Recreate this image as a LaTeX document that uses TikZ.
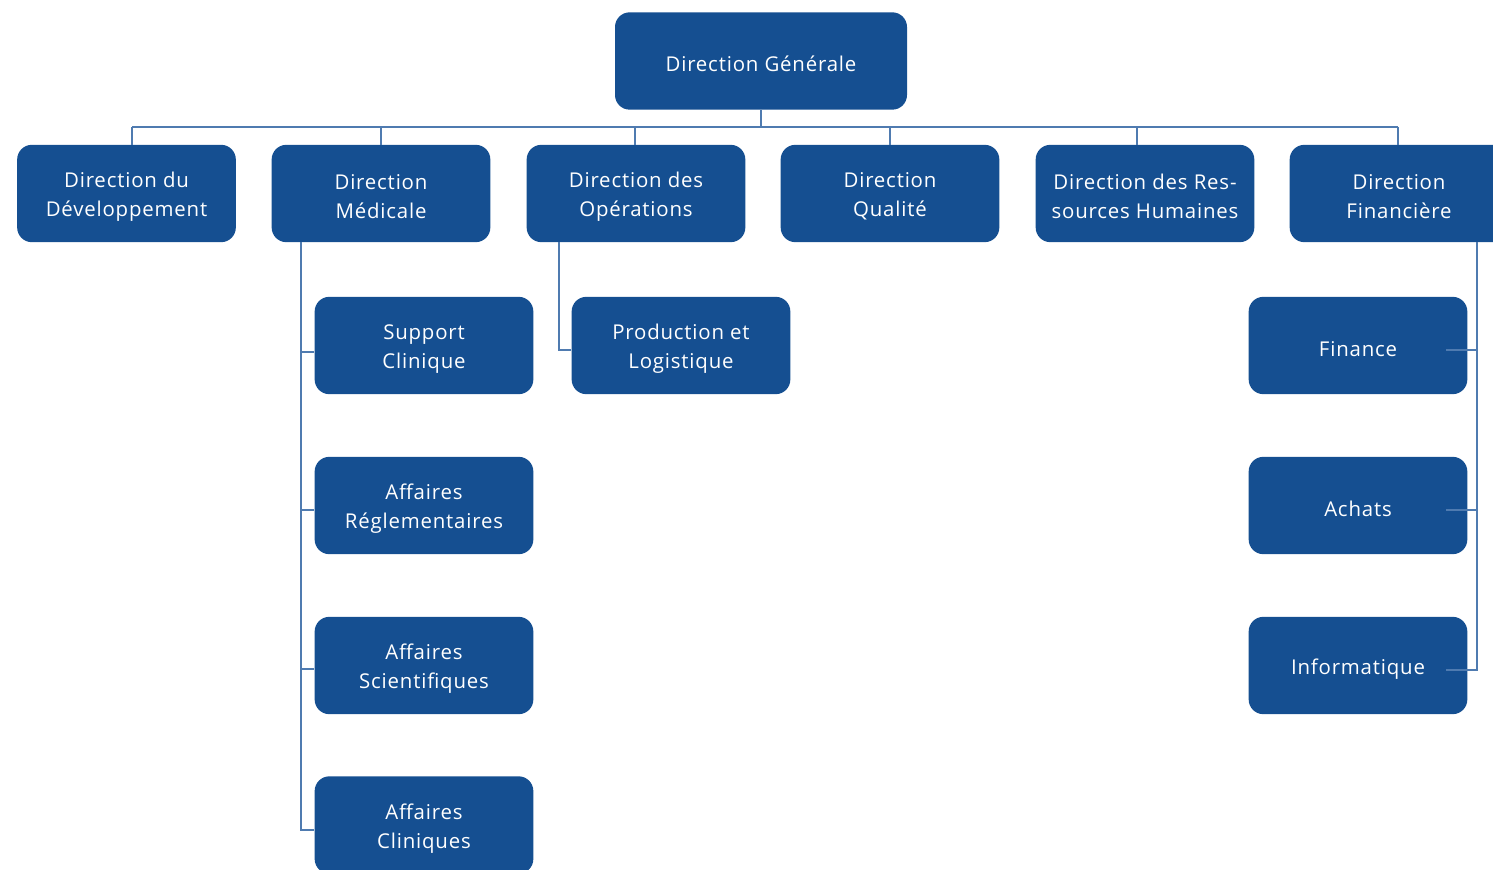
\documentclass[tikz,border=0pt]{standalone}
\usepackage{fontspec}
\setmainfont{Open Sans}[LetterSpace=4]
\definecolor{boxblue}{HTML}{154F91}
\definecolor{lineblue}{HTML}{4F7BB0}
\begin{document}
\begin{tikzpicture}[x=0.75pt,y=-0.75pt,
  box/.style={fill=boxblue, rounded corners=11pt,
    minimum width=164pt, minimum height=73pt, inner sep=0pt},
  lbl/.style={text=white, align=center, inner sep=0pt, yshift=-2.4pt,
    font=\fontsize{15.3pt}{21.75pt}\selectfont},
  link/.style={draw=lineblue, line width=1.1pt}]
\useasboundingbox (0,0) rectangle (1493,870);
% top
\node[box, minimum width=219pt] (dg) at (761,61) {};
\node[lbl] (dg-t) at (dg) {Direction Générale};
% level 1
\node[box] (dev) at (126.5,193.5) {};
\node[box] (med) at (381,193.5) {};
\node[box] (ops) at (636,193.5) {};
\node[box] (qual) at (890,193.5) {};
\node[box] (rh) at (1145,193.5) {};
\node[box] (fin) at (1399,193.5) {};
\node[lbl] (dev-t) at (dev) {Direction du\\Développement};
\node[lbl] (med-t) at (med) {Direction\\Médicale};
\node[lbl] (ops-t) at (ops) {Direction des\\Opérations};
\node[lbl] (qual-t) at (qual) {Direction\\Qualité};
\node[lbl] (rh-t) at (rh) {Direction des Res-\\sources Humaines};
\node[lbl] (fin-t) at (fin) {Direction\\Financière};
% medical children
\node[box] (sc) at (424,345.5) {};
\node[box] (ar) at (424,505.5) {};
\node[box] (as) at (424,665.5) {};
\node[box] (ac) at (424,825) {};
\node[lbl] (sc-t) at (sc) {Support\\Clinique};
\node[lbl] (ar-t) at (ar) {Affaires\\Réglementaires};
\node[lbl] (as-t) at (as) {Affaires\\Scientifiques};
\node[lbl] (ac-t) at (ac) {Affaires\\Cliniques};
% operations child
\node[box] (pl) at (681,345.5) {};
\node[lbl] (pl-t) at (pl) {Production et\\Logistique};
% finance children
\node[box] (fi) at (1358,345.5) {};
\node[box] (ach) at (1358,505.5) {};
\node[box] (inf) at (1358,665.5) {};
\node[lbl] (fi-t) at (fi) {Finance};
\node[lbl] (ach-t) at (ach) {Achats};
\node[lbl] (inf-t) at (inf) {Informatique};
% bus
\coordinate (b0) at (761,127);
\coordinate (b1) at (132,127);
\coordinate (b2) at (381,127);
\coordinate (b3) at (635,127);
\coordinate (b4) at (890,127);
\coordinate (b5) at (1137,127);
\coordinate (b6) at (1398,127);
\draw[link] (dg.south) -- (b0);
\draw[link] (b1) -- (b6);
\foreach \b/\n in {b1/dev,b2/med,b3/ops,b4/qual,b5/rh,b6/fin}
  \draw[link] (\b) -- (\b |- \n.north);
% medical tree
\coordinate (mx) at (301,0);
\draw[link] (mx |- med.south) -- (mx |- 0,830) -- (ac.west |- 0,830);
\foreach \n/\y in {sc/352,ar/510,as/669}
  \draw[link] (mx |- 0,\y) -- (\n.west |- 0,\y);
% operations tree
\coordinate (ox) at (559,0);
\draw[link] (ox |- ops.south) -- (ox |- 0,350) -- (pl.west |- 0,350);
% finance tree
\coordinate (fx) at (1477,0);
\draw[link] (fx |- fin.south) -- (fx |- 0,670) -- (1446,670);
\foreach \y in {350,510}
  \draw[link] (fx |- 0,\y) -- (1446,\y);
\end{tikzpicture}
\end{document}
